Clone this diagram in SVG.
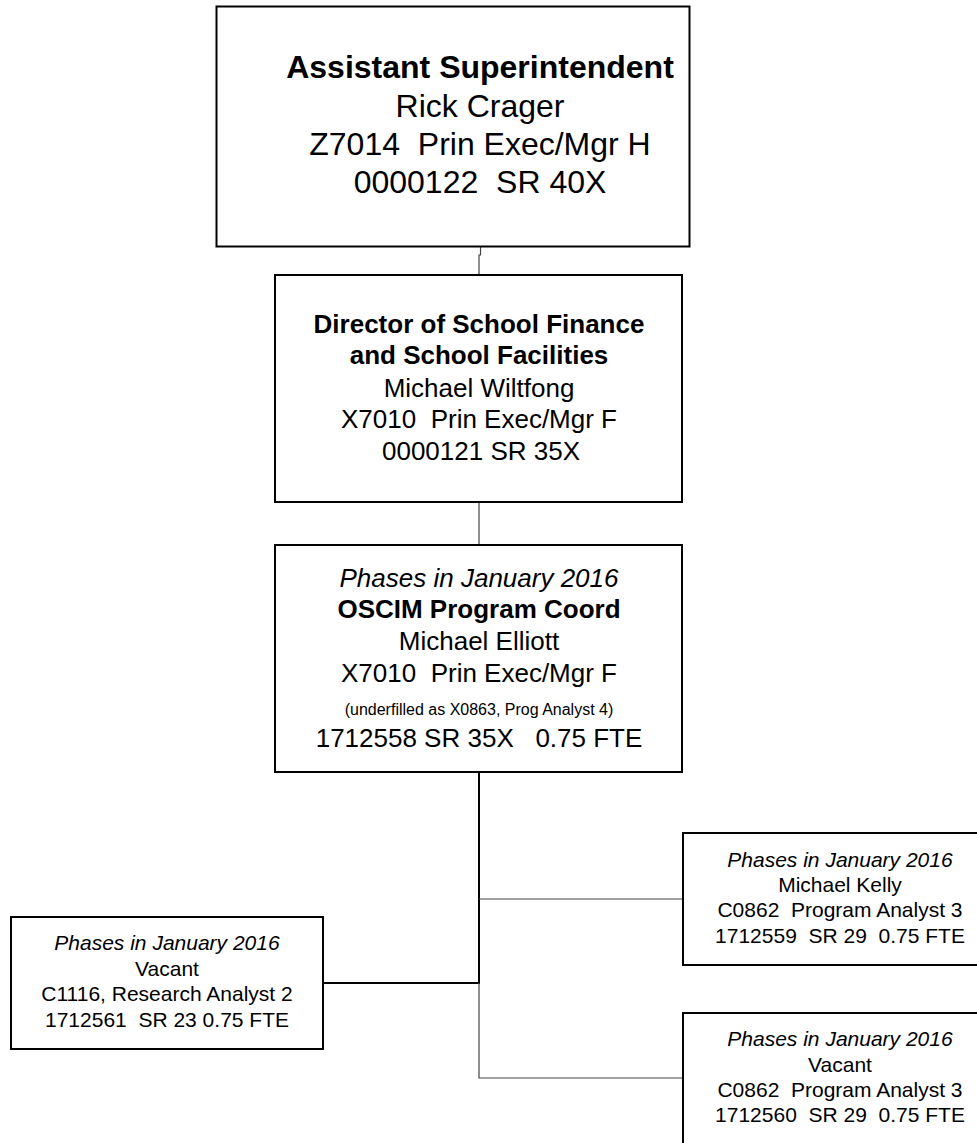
<svg xmlns="http://www.w3.org/2000/svg" width="977" height="1143" viewBox="0 0 977 1143">
<style>
.box{fill:#fff;stroke:#000;stroke-width:2}
text{font-family:"Liberation Sans",Arial,sans-serif;fill:#000;text-anchor:middle}
.b{font-weight:bold}
.i{font-style:italic}
.t1{font-size:32px}
.t2{font-size:26px}
.t3{font-size:21px}
.sm{font-size:16px}
.thin{stroke:#444;stroke-width:1.2;fill:none}
.thick{stroke:#000;stroke-width:2;fill:none}
</style>
<rect width="977" height="1143" fill="#fff"/>
<g id="connectors">
<path class="thin" d="M480.5 247 V255 H479 V275"/>
<path class="thin" d="M479 502 V545"/>
<path class="thick" d="M479 772 V983 H323"/>
<path class="thin" d="M479 899 H683"/>
<path class="thin" d="M479 983 V1078 H683"/>
</g>
<g id="n1">
<rect class="box" x="216.5" y="6.5" width="473" height="240"/>
<text class="t1 b" x="480" y="78">Assistant Superintendent</text>
<text class="t1" x="480" y="117">Rick Crager</text>
<text class="t1" x="480" y="155" xml:space="preserve">Z7014  Prin Exec/Mgr H</text>
<text class="t1" x="480" y="193" xml:space="preserve">0000122  SR 40X</text>
</g>
<g id="n2">
<rect class="box" x="275" y="275" width="407" height="227"/>
<text class="t2 b" x="479" y="333">Director of School Finance</text>
<text class="t2 b" x="479" y="364">and School Facilities</text>
<text class="t2" x="479" y="397">Michael Wiltfong</text>
<text class="t2" x="479" y="428" xml:space="preserve">X7010  Prin Exec/Mgr F</text>
<text class="t2" x="481" y="460">0000121 SR 35X</text>
</g>
<g id="n3">
<rect class="box" x="275" y="545" width="407" height="227"/>
<text class="t2 i" x="479" y="587">Phases in January 2016</text>
<text class="t2 b" x="479" y="618">OSCIM Program Coord</text>
<text class="t2" x="479" y="650">Michael Elliott</text>
<text class="t2" x="479" y="682" xml:space="preserve">X7010  Prin Exec/Mgr F</text>
<text class="sm" x="479" y="715">(underfilled as X0863, Prog Analyst 4)</text>
<text class="t2" x="479" y="747" xml:space="preserve">1712558 SR 35X   0.75 FTE</text>
</g>
<g id="n4">
<rect class="box" x="11" y="917" width="312" height="132"/>
<text class="t3 i" x="167" y="950">Phases in January 2016</text>
<text class="t3" x="167" y="976">Vacant</text>
<text class="t3" x="167" y="1001">C1116, Research Analyst 2</text>
<text class="t3" x="167" y="1027" xml:space="preserve">1712561  SR 23 0.75 FTE</text>
</g>
<g id="n5">
<rect class="box" x="683" y="833" width="320" height="132"/>
<text class="t3 i" x="840" y="867">Phases in January 2016</text>
<text class="t3" x="840" y="892">Michael Kelly</text>
<text class="t3" x="840" y="917" xml:space="preserve">C0862  Program Analyst 3</text>
<text class="t3" x="840" y="943" xml:space="preserve">1712559  SR 29  0.75 FTE</text>
</g>
<g id="n6">
<rect class="box" x="683" y="1013" width="320" height="150"/>
<text class="t3 i" x="840" y="1046">Phases in January 2016</text>
<text class="t3" x="840" y="1072">Vacant</text>
<text class="t3" x="840" y="1097" xml:space="preserve">C0862  Program Analyst 3</text>
<text class="t3" x="840" y="1122" xml:space="preserve">1712560  SR 29  0.75 FTE</text>
</g>
</svg>
